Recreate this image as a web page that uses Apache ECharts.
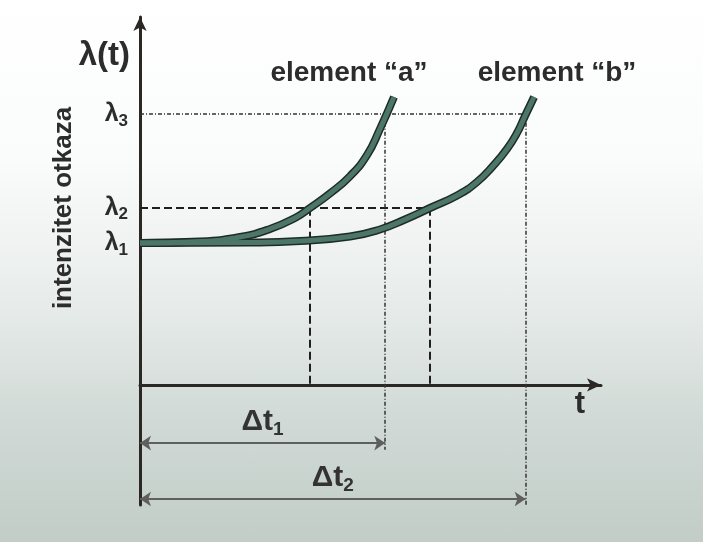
<!DOCTYPE html>
<html>
<head>
<meta charset="utf-8">
<script src="https://cdn.jsdelivr.net/npm/echarts@6/dist/echarts.min.js"></script>
<style>
  html, body { margin: 0; padding: 0; }
  #chart {
    width: 703px;
    height: 542px;
    background: linear-gradient(to bottom, #ffffff 0%, #fafbfb 30%, #e8edeb 55%, #d0d9d5 78%, #c2cdc8 100%);
  }
</style>
</head>
<body>
<div id="chart"></div>
<script>
// krivulje intenziteta otkaza (t, lambda) ocitane sa slike
const tA = [0, 12.82, 21.37, 27.78, 33.12, 36.32, 40.60, 44.87, 48.50, 51.28, 54.27];
const lamA = [37.8, 38.2, 39.4, 41.53, 44.46, 47.12, 51.0, 55.6, 61.2, 68.2, 76.69];
const tB = [0, 23.5, 34.19, 44.87, 51.28, 56.62, 61.97, 67.95, 72.01, 75.43, 78.42, 80.56, 82.26, 84.2];
const lamB = [37.8, 37.93, 38.33, 39.53, 41.4, 44.06, 47.12, 50.59, 54.05, 58.32, 62.85, 67.11, 71.64, 76.7];

// nivoi lambda na y osi
const lambdaLevels = [37.8, 47.2, 72.2];
const lambdaSubs = ['1', '2', '3'];

// presjeci sa lambda2 i lambda3 (element a, element b)
const tAt2 = [36.3, 62.0];
const tAt3 = [52.4, 82.4];

// strelice delta t
const dtNames = ['1', '2'];
const dtLevel = [-15.5, -30.4];
const dropEnd = [-17.3, -32.5];

const FONT = '"Liberation Sans", Arial, sans-serif';
const INK = '#2c2c2c';

const chart = echarts.init(document.getElementById('chart'), null, { renderer: 'canvas' });

const pairs = (xs, ys) => xs.map((x, i) => [x, ys[i]]);
const l2 = lambdaLevels[1];
const l3 = lambdaLevels[2];

const curve = (name, data, color, width) => ({
  name: name,
  type: 'line',
  data: data,
  smooth: 0.5,
  showSymbol: false,
  silent: true,
  lineStyle: { color: color, width: width },
});

const option = {
  backgroundColor: 'transparent',
  animation: false,
  grid: { left: 140, right: 102, top: 17, bottom: 37 },
  xAxis: {
    type: 'value',
    min: 0,
    max: 98.5,
    axisLine: {
      onZero: true,
      symbol: ['none', 'arrow'],
      symbolSize: [10, 14],
      lineStyle: { color: '#2b2724', width: 3 },
    },
    axisTick: { show: false },
    axisLabel: { show: false },
    splitLine: { show: false },
  },
  yAxis: {
    type: 'value',
    min: -32,
    max: 98,
    axisLine: {
      show: true,
      symbol: ['none', 'arrow'],
      symbolSize: [10, 14],
      lineStyle: { color: '#2b2724', width: 3 },
    },
    axisTick: { show: false },
    splitLine: { show: false },
    axisLabel: {
      customValues: lambdaLevels,
      margin: 12,
      formatter: (v) => {
        const i = lambdaLevels.indexOf(v);
        return '{m|λ}{s|' + lambdaSubs[i] + '}';
      },
      rich: {
        m: { fontSize: 25, fontWeight: 'bold', fontFamily: FONT, color: INK },
        s: { fontSize: 17, fontWeight: 'bold', fontFamily: FONT, color: INK, padding: [14, 0, 0, 0] },
      },
    },
  },
  graphic: [
    {
      type: 'text', x: 130, y: 56,
      style: { text: 'λ(t)', align: 'right', verticalAlign: 'middle', font: 'bold 33px ' + FONT, fill: INK },
    },
    {
      type: 'text', x: 64, y: 208, rotation: Math.PI / 2,
      style: { text: 'intenzitet otkaza', align: 'center', verticalAlign: 'middle', font: 'bold 26px ' + FONT, fill: INK },
    },
    {
      type: 'text', x: 349, y: 73,
      style: { text: 'element “a”', align: 'center', verticalAlign: 'middle', font: 'bold 28px ' + FONT, fill: INK },
    },
    {
      type: 'text', x: 557, y: 73,
      style: { text: 'element “b”', align: 'center', verticalAlign: 'middle', font: 'bold 28px ' + FONT, fill: INK },
    },
    {
      type: 'text', x: 580, y: 404,
      style: { text: 't', align: 'center', verticalAlign: 'middle', font: 'bold 31px ' + FONT, fill: INK },
    },
  ],
  series: [
    // isprekidane linije za lambda2
    {
      type: 'lines',
      coordinateSystem: 'cartesian2d',
      silent: true,
      lineStyle: { color: '#1f1f1f', width: 2, type: [8, 4], opacity: 1 },
      data: [
        { coords: [[0, l2], [tAt2[1], l2]] },
        { coords: [[tAt2[0], l2], [tAt2[0], 0]] },
        { coords: [[tAt2[1], l2], [tAt2[1], 0]] },
      ],
    },
    // tackaste linije za lambda3
    {
      type: 'lines',
      coordinateSystem: 'cartesian2d',
      silent: true,
      lineStyle: { color: '#333', width: 1.5, type: [4, 2, 1, 2], opacity: 1 },
      data: [
        { coords: [[0, l3], [tAt3[1], l3]] },
        { coords: [[tAt3[0], l3], [tAt3[0], dropEnd[0]]] },
        { coords: [[tAt3[1], l3], [tAt3[1], dropEnd[1]]] },
      ],
    },
    // strelice delta t
    {
      type: 'lines',
      coordinateSystem: 'cartesian2d',
      silent: true,
      symbol: ['arrow', 'arrow'],
      symbolSize: 11,
      lineStyle: { color: '#5f5f5f', width: 2, opacity: 1 },
      label: {
        show: true,
        position: 'middle',
        distance: 4,
        formatter: (p) => '{m|Δt}{s|' + p.name + '}',
        rich: {
          m: { fontSize: 30, fontWeight: 'bold', fontFamily: FONT, color: '#333' },
          s: { fontSize: 19, fontWeight: 'bold', fontFamily: FONT, color: '#333', padding: [16, 0, 0, 0] },
        },
      },
      data: dtNames.map((n, i) => ({ name: n, coords: [[0, dtLevel[i]], [tAt3[i], dtLevel[i]]] })),
    },
    // krivulje: tamni rub pa ispuna
    curve('a-rub', pairs(tA, lamA), '#1f2b27', 8),
    curve('b-rub', pairs(tB, lamB), '#1f2b27', 8),
    curve('element a', pairs(tA, lamA), '#4c7668', 5),
    curve('element b', pairs(tB, lamB), '#4c7668', 5),
  ],
};

chart.setOption(option);
</script>
</body>
</html>
